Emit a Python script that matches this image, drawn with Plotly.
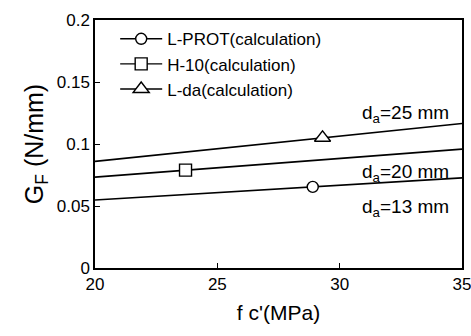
import plotly.graph_objects as go

# Data
fc_range = [20, 35]
gf_da13 = [0.0548, 0.0727]
gf_da20 = [0.0733, 0.0959]
gf_da25 = [0.0860, 0.1165]
line_labels = ["d<sub>a</sub>=13 mm", "d<sub>a</sub>=20 mm", "d<sub>a</sub>=25 mm"]
label_y = [0.048, 0.077, 0.124]

point_names = ["L-PROT(calculation)", "H-10(calculation)", "L-da(calculation)"]
point_x = [28.9, 23.7, 29.3]
point_y = [0.0654, 0.0789, 0.105]
point_symbols = ["circle", "square", "triangle-up"]
point_sizes = [11, 12, 14]

x_ticks = [20, 25, 30, 35]
y_ticks = [0, 0.05, 0.1, 0.15, 0.2]
y_ticktext = ["0", "0.05", "0.1", "0.15", "0.2"]

FONT = "Liberation Sans, Arial, sans-serif"

fig = go.Figure()
for ys in [gf_da13, gf_da20, gf_da25]:
    fig.add_trace(go.Scatter(x=fc_range, y=ys, mode="lines",
                             line=dict(color="black", width=1.6),
                             showlegend=False, hoverinfo="skip"))

for name, px, py, sym, sz in zip(point_names, point_x, point_y, point_symbols, point_sizes):
    fig.add_trace(go.Scatter(x=[px], y=[py], mode="lines+markers", name=name,
                             marker=dict(symbol=sym, size=sz, color="white",
                                         line=dict(color="black", width=1.4)),
                             line=dict(color="black", width=1.4)))

for txt, ly in zip(line_labels, label_y):
    fig.add_annotation(x=34.55, y=ly, text=txt, showarrow=False, xanchor="right",
                       yanchor="middle", font=dict(size=19, color="black", family=FONT))

axis_common = dict(showline=True, linecolor="black", linewidth=1.5, mirror=True,
                   ticks="inside", ticklen=5, tickcolor="black", showgrid=False,
                   zeroline=False, automargin=False, ticklabeloverflow="allow",
                   tickfont=dict(size=17, color="black", family=FONT))

fig.update_xaxes(range=[20, 35], tickvals=x_ticks, ticktext=[str(t) for t in x_ticks],
                 title=dict(text="f c'(MPa)", font=dict(size=21, color="black", family=FONT),
                            standoff=12),
                 **axis_common)
fig.update_yaxes(range=[0, 0.2], tickvals=y_ticks, ticktext=y_ticktext,
                 title=dict(text="G<sub>F</sub> (N/mm)", font=dict(size=25, color="black", family=FONT),
                            standoff=6),
                 **axis_common)

fig.update_layout(
    width=471, height=336,
    margin=dict(l=95, r=9, t=20, b=68),
    paper_bgcolor="white", plot_bgcolor="white",
    font=dict(family=FONT, color="black"),
    legend=dict(x=0.055, y=0.995, xanchor="left", yanchor="top",
                bgcolor="rgba(0,0,0,0)", font=dict(size=17, color="black", family=FONT),
                tracegroupgap=0, itemwidth=42),
)

fig.write_html("out.html")
